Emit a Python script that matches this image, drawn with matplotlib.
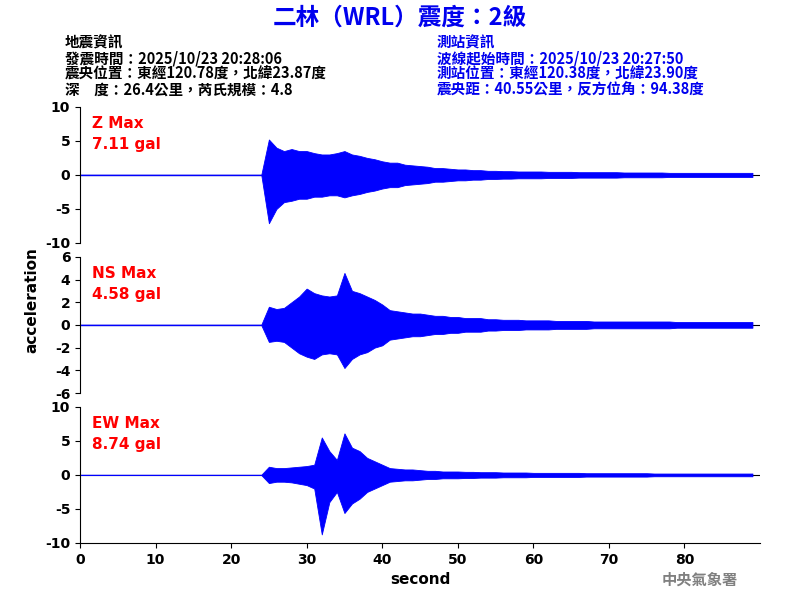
import matplotlib
matplotlib.use("Agg")
import matplotlib.pyplot as plt
import numpy as np
plt.rcParams['axes.unicode_minus'] = False

seconds = list(range(90))
z_hi = [0.05]*25 + [5.2,4.0,3.5,3.8,3.5,3.5,3.2,3.0,3.0,3.2,3.5,3.0,2.8,2.5,2.3,2.0,1.8,1.8,1.5,1.4,1.3,1.2,1.0,1.0,0.9,0.8,0.8,0.7,0.7,0.6,0.6,
        0.55,0.55,0.5,0.5,0.5,0.5,0.45,0.45,0.45,0.45,0.4,0.4,0.4,0.4,0.4,0.4,0.35,0.35,0.35,0.35,0.35,0.35,0.3,0.3,0.3,0.3,0.3,0.3,0.3,0.3,0.3,0.3,0.3,0.3]
z_lo = [-0.05]*25 + [-7.1,-5.0,-4.0,-3.8,-3.5,-3.5,-3.2,-3.2,-3.0,-3.0,-3.3,-3.0,-2.8,-2.5,-2.3,-2.0,-1.8,-1.8,-1.5,-1.4,-1.3,-1.2,-1.0,-1.0,-0.9,-0.8,-0.8,-0.7,-0.7,-0.6,-0.6,
        -0.55,-0.55,-0.5,-0.5,-0.5,-0.5,-0.45,-0.45,-0.45,-0.45,-0.4,-0.4,-0.4,-0.4,-0.4,-0.4,-0.35,-0.35,-0.35,-0.35,-0.35,-0.35,-0.3,-0.3,-0.3,-0.3,-0.3,-0.3,-0.3,-0.3,-0.3,-0.3,-0.3,-0.3]
ns_hi = [0.03]*25 + [1.6,1.4,1.5,2.0,2.5,3.2,2.8,2.6,2.5,2.6,4.58,3.0,2.8,2.5,2.2,1.8,1.3,1.2,1.1,1.0,1.0,0.9,0.8,0.8,0.7,0.7,0.6,0.6,0.6,0.5,0.5,
        0.45,0.45,0.45,0.4,0.4,0.4,0.4,0.35,0.35,0.35,0.35,0.35,0.3,0.3,0.3,0.3,0.3,0.3,0.3,0.3,0.3,0.3,0.3,0.25,0.25,0.25,0.25,0.25,0.25,0.25,0.25,0.25,0.25,0.25]
ns_lo = [-0.03]*25 + [-1.5,-1.4,-1.5,-2.0,-2.5,-2.8,-3.0,-2.6,-2.5,-2.6,-3.8,-3.0,-2.6,-2.4,-2.0,-1.8,-1.3,-1.2,-1.1,-1.0,-1.0,-0.9,-0.8,-0.8,-0.7,-0.7,-0.6,-0.6,-0.6,-0.5,-0.5,
        -0.45,-0.45,-0.45,-0.4,-0.4,-0.4,-0.4,-0.35,-0.35,-0.35,-0.35,-0.35,-0.3,-0.3,-0.3,-0.3,-0.3,-0.3,-0.3,-0.3,-0.3,-0.3,-0.3,-0.25,-0.25,-0.25,-0.25,-0.25,-0.25,-0.25,-0.25,-0.25,-0.25,-0.25]
ew_hi = [0.03]*25 + [1.2,1.0,1.0,1.1,1.2,1.3,1.5,5.5,3.5,2.2,6.1,4.0,3.5,2.5,2.0,1.5,1.0,0.9,0.8,0.8,0.7,0.6,0.6,0.5,0.5,0.5,0.45,0.45,0.4,0.4,0.4,
        0.35,0.35,0.35,0.35,0.3,0.3,0.3,0.3,0.3,0.3,0.3,0.25,0.25,0.25,0.25,0.25,0.25,0.25,0.25,0.25,0.2,0.2,0.2,0.2,0.2,0.2,0.2,0.2,0.2,0.2,0.2,0.2,0.2,0.2]
ew_lo = [-0.03]*25 + [-1.2,-1.0,-1.0,-1.1,-1.3,-1.5,-2.0,-8.74,-4.0,-2.5,-5.6,-4.2,-3.5,-2.5,-2.0,-1.5,-1.0,-0.9,-0.8,-0.8,-0.7,-0.6,-0.6,-0.5,-0.5,-0.5,-0.45,-0.45,-0.4,-0.4,-0.4,
        -0.35,-0.35,-0.35,-0.35,-0.3,-0.3,-0.3,-0.3,-0.3,-0.3,-0.3,-0.25,-0.25,-0.25,-0.25,-0.25,-0.25,-0.25,-0.25,-0.25,-0.2,-0.2,-0.2,-0.2,-0.2,-0.2,-0.2,-0.2,-0.2,-0.2,-0.2,-0.2,-0.2,-0.2]

channels = [("Z Max", "7.11 gal", z_hi, z_lo, (-10, 10), [-10, -5, 0, 5, 10]),
            ("NS Max", "4.58 gal", ns_hi, ns_lo, (-6, 6), [-6, -4, -2, 0, 2, 4, 6]),
            ("EW Max", "8.74 gal", ew_hi, ew_lo, (-10, 10), [-10, -5, 0, 5, 10])]

cjk = ['Noto Sans CJK TC', 'DejaVu Sans']
fig = plt.figure(figsize=(8, 6), dpi=100)
bottoms = [0.595, 0.345, 0.095]
for i, (name, val, hi, lo, ylim, yt) in enumerate(channels):
    ax = fig.add_axes([0.1, bottoms[i], 0.85, 0.227])
    ax.axhline(0, color='black', lw=0.8, zorder=1)
    ax.fill_between(seconds[:len(hi)], lo, hi, color='blue', lw=0.6, zorder=2)
    ax.set_xlim(0, 90)
    ax.set_ylim(*ylim)
    ax.set_yticks(yt)
    for s in ['top', 'right']:
        ax.spines[s].set_visible(False)
    if i < 2:
        ax.spines['bottom'].set_visible(False)
        ax.set_xticks([])
    else:
        ax.set_xticks(range(0, 90, 10))
        ax.set_xlabel("second", fontsize=11, fontweight='bold')
    ax.tick_params(labelsize=10)
    for t in ax.get_xticklabels() + ax.get_yticklabels():
        t.set_fontweight('bold')
    ax.text(0.018, 0.93, name, transform=ax.transAxes, color='red', fontsize=11, fontweight='bold', va='top')
    ax.text(0.018, 0.78, val, transform=ax.transAxes, color='red', fontsize=11, fontweight='bold', va='top')

fig.text(0.04, 0.5, "acceleration", rotation=90, va='center', ha='center', fontsize=11, fontweight='bold')
fig.text(0.5, 0.97, "二林（WRL）震度：2級", ha='center', va='center', color='#0000ee', fontsize=17, fontweight='bold', family=cjk)
left = ["地震資訊", "發震時間：2025/10/23 20:28:06", "震央位置：東經120.78度，北緯23.87度", "深　度：26.4公里，芮氏規模：4.8"]
right = ["測站資訊", "波線起始時間：2025/10/23 20:27:50", "測站位置：東經120.38度，北緯23.90度", "震央距：40.55公里，反方位角：94.38度"]
for k, (l, r) in enumerate(zip(left, right)):
    y = 1 - (42 + 16 * k) / 600
    fig.text(65 / 800, y, l, va='center', fontsize=10.5, fontweight='bold', family=cjk)
    fig.text(437 / 800, y, r, va='center', fontsize=10.5, color='#0000ee', fontweight='bold', family=cjk)
fig.text(700 / 800, 1 - 580 / 600, "中央氣象署", ha='center', va='center', color='gray', fontsize=11, fontweight='bold', family=cjk)
fig.savefig("out.png", dpi=100)
